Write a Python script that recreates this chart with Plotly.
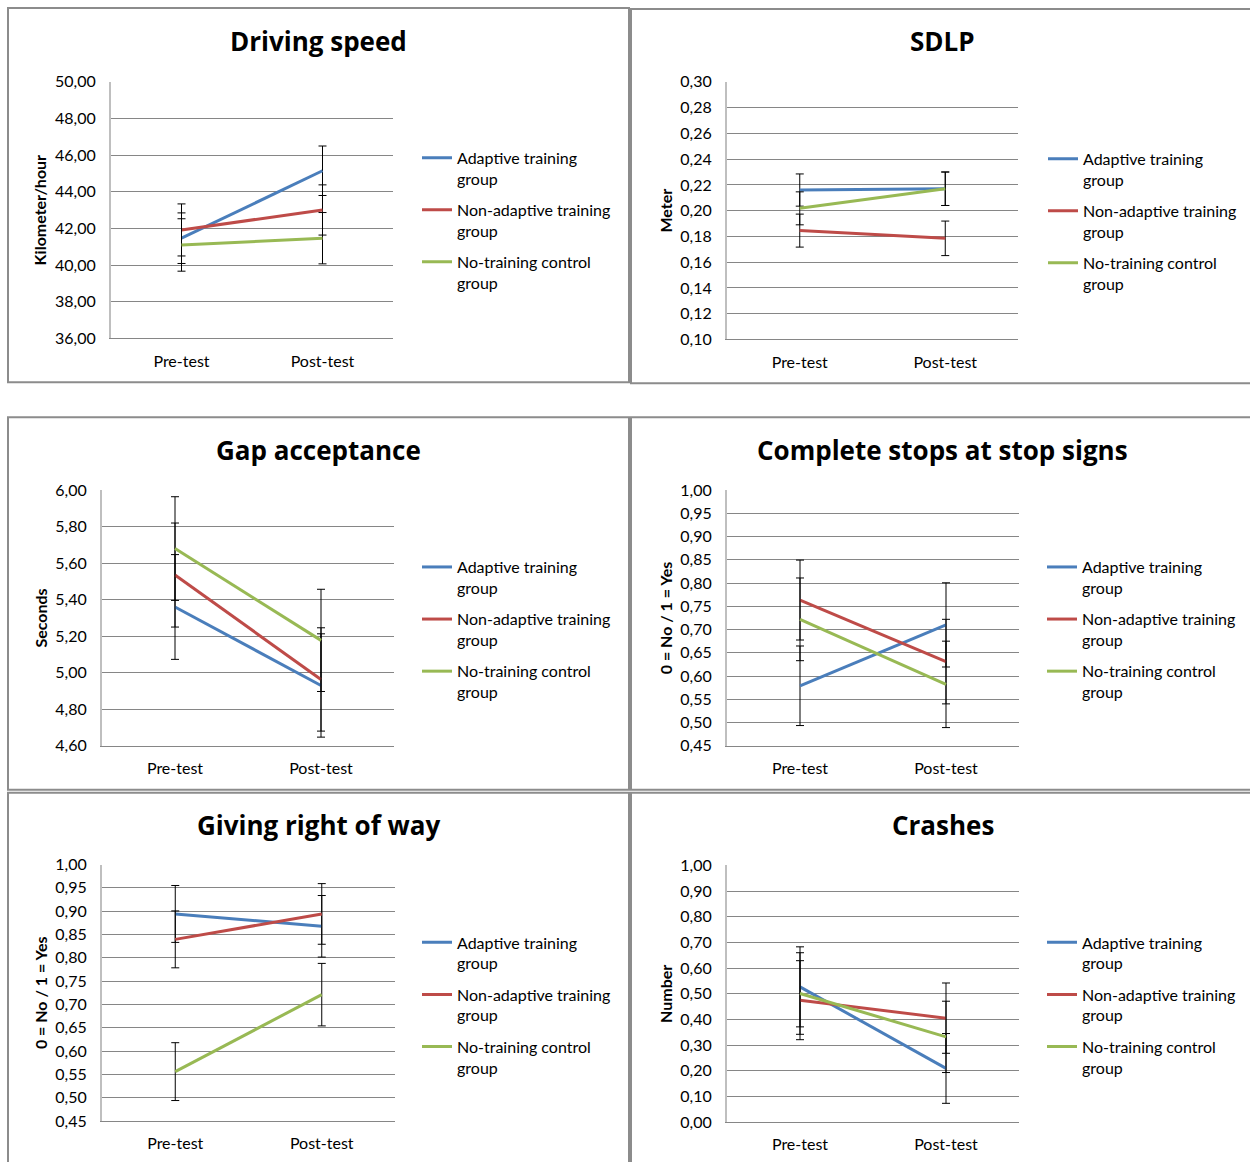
import plotly.graph_objects as go

categories = ["Pre-test", "Post-test"]
group_names = ["Adaptive training<br>group", "Non-adaptive training<br>group", "No-training control<br>group"]
group_colors = ["#4A7EBB", "#BE4B48", "#98B954"]

# Driving speed (km/h)
speed_adaptive = [41.47, 45.15]
speed_adaptive_err = [1.38, 1.35]
speed_nonadaptive = [41.92, 43.01]
speed_nonadaptive_err = [1.42, 1.37]
speed_control = [41.10, 41.47]
speed_control_err = [1.43, 1.40]

# SDLP (m)
sdlp_adaptive = [0.216, 0.217]
sdlp_adaptive_err = [0.0125, 0.0130]
sdlp_nonadaptive = [0.1845, 0.1785]
sdlp_nonadaptive_err = [0.0128, 0.0134]
sdlp_control = [0.2018, 0.217]
sdlp_control_err = [0.0128, 0.0130]

# Gap acceptance (s)
gap_adaptive = [5.36, 4.93]
gap_adaptive_err = [0.287, 0.283]
gap_nonadaptive = [5.535, 4.963]
gap_nonadaptive_err = [0.285, 0.283]
gap_control = [5.68, 5.177]
gap_control_err = [0.284, 0.280]

# Complete stops at stop signs
stops_adaptive = [0.579, 0.710]
stops_adaptive_err = [0.0856, 0.0906]
stops_nonadaptive = [0.7635, 0.631]
stops_nonadaptive_err = [0.086, 0.091]
stops_control = [0.722, 0.582]
stops_control_err = [0.089, 0.093]

# Giving right of way
row_adaptive = [0.894, 0.8675]
row_adaptive_err = [0.061, 0.066]
row_nonadaptive = [0.8395, 0.894]
row_nonadaptive_err = [0.061, 0.065]
row_control = [0.556, 0.721]
row_control_err = [0.062, 0.067]

# Crashes
crash_adaptive = [0.527, 0.209]
crash_adaptive_err = [0.156, 0.136]
crash_nonadaptive = [0.475, 0.405]
crash_nonadaptive_err = [0.154, 0.137]
crash_control = [0.501, 0.332]
crash_control_err = [0.159, 0.139]

W, HF = 1250, 1171
YOFF, YSCALE = 8.0, 0.9855
FONT = "Lato"
TFONT = "Open Sans"


def py(v):
    # convert a vertical pixel position of the target picture to paper coordinates
    return 1 - ((v - YOFF) / YSCALE) / HF


panels = [
    dict(title="Driving speed", ytitle="Kilometer/hour", rng=[36, 50], dtick=2,
         series=[(speed_adaptive, speed_adaptive_err), (speed_nonadaptive, speed_nonadaptive_err), (speed_control, speed_control_err)],
         px=(111, 393), pyr=(80, 337), box=(8, 6, 629, 381), tx=318, ty=39, lx=417, ly=139),
    dict(title="SDLP", ytitle="Meter", rng=[0.10, 0.30], dtick=0.02,
         series=[(sdlp_adaptive, sdlp_adaptive_err), (sdlp_nonadaptive, sdlp_nonadaptive_err), (sdlp_control, sdlp_control_err)],
         px=(727, 1018), pyr=(80, 338), box=(631, 7, 1252, 382), tx=942, ty=39, lx=1043, ly=140),
    dict(title="Gap acceptance", ytitle="Seconds", rng=[4.60, 6.00], dtick=0.2,
         series=[(gap_adaptive, gap_adaptive_err), (gap_nonadaptive, gap_nonadaptive_err), (gap_control, gap_control_err)],
         px=(102, 394), pyr=(489, 745), box=(8, 416, 629, 789), tx=318, ty=449, lx=417, ly=549),
    dict(title="Complete stops at stop signs", ytitle="0 = No / 1 = Yes", rng=[0.45, 1.00], dtick=0.05,
         series=[(stops_adaptive, stops_adaptive_err), (stops_nonadaptive, stops_nonadaptive_err), (stops_control, stops_control_err)],
         px=(727, 1019), pyr=(489, 745), box=(631, 416, 1252, 789), tx=942, ty=449, lx=1042, ly=549),
    dict(title="Giving right of way", ytitle="0 = No / 1 = Yes", rng=[0.45, 1.00], dtick=0.05,
         series=[(row_adaptive, row_adaptive_err), (row_nonadaptive, row_nonadaptive_err), (row_control, row_control_err)],
         px=(102, 395), pyr=(864, 1121), box=(8, 792, 629, 1180), tx=318, ty=824, lx=417, ly=925),
    dict(title="Crashes", ytitle="Number", rng=[0.0, 1.0], dtick=0.1,
         series=[(crash_adaptive, crash_adaptive_err), (crash_nonadaptive, crash_nonadaptive_err), (crash_control, crash_control_err)],
         px=(727, 1019), pyr=(865, 1122), box=(631, 792, 1252, 1180), tx=943, ty=824, lx=1042, ly=925),
]

fig = go.Figure()
shapes = []
annotations = []
for i, p in enumerate(panels):
    n = "" if i == 0 else str(i + 1)
    lg = "legend" + n
    for j, (vals, errs) in enumerate(p["series"]):
        fig.add_trace(go.Scatter(
            x=categories, y=vals, mode="lines", name=group_names[j],
            line=dict(color=group_colors[j], width=3),
            error_y=dict(type="data", array=errs, visible=True, color="#000000", thickness=1, width=4),
            xaxis="x" + n, yaxis="y" + n, legend=lg, legendgroup=f"g{i}_{j}",
        ))
    x0, x1 = p["px"]
    y0, y1 = p["pyr"]
    fig.layout["xaxis" + n] = dict(
        domain=[x0 / W, x1 / W], anchor="y" + n, type="category", range=[-0.5, 1.5],
        showgrid=False, showline=True, linecolor="#868686", linewidth=1, ticks="",
        ticklabelstandoff=8, tickfont=dict(family=FONT, size=16, color="#000000"), fixedrange=True,
    )
    fig.layout["yaxis" + n] = dict(
        domain=[py(y1), py(y0)], anchor="x" + n, range=p["rng"], dtick=p["dtick"], tick0=0,
        tickformat=".2f", showgrid=True, gridcolor="#868686", gridwidth=1, zeroline=False,
        showline=True, linecolor="#BFBFBF", linewidth=2, ticks="", ticklabelstandoff=10,
        tickfont=dict(family=FONT, size=16, color="#000000"),
        title=dict(text="<b>" + p["ytitle"] + "</b>", font=dict(family=FONT, size=16, color="#000000"), standoff=4),
        fixedrange=True,
    )
    fig.layout[lg] = dict(
        x=p["lx"] / W, y=py(p["ly"]), xanchor="left", yanchor="top",
        font=dict(family=FONT, size=16, color="#000000"), bgcolor="rgba(0,0,0,0)",
        tracegroupgap=7.5, valign="top", itemclick=False, itemdoubleclick=False,
    )
    bx0, by0, bx1, by1 = p["box"]
    shapes.append(dict(type="rect", xref="paper", yref="paper", x0=bx0 / W, x1=bx1 / W,
                       y0=py(by1), y1=py(by0), line=dict(color="#8C8C8C", width=2)))
    annotations.append(dict(text="<b>" + p["title"] + "</b>", xref="paper", yref="paper",
                            x=p["tx"] / W, y=py(p["ty"]), xanchor="center", yanchor="middle",
                            showarrow=False, font=dict(family=TFONT, size=26, color="#000000")))

fig.update_layout(
    width=W, height=HF, margin=dict(l=0, r=0, t=0, b=0),
    paper_bgcolor="white", plot_bgcolor="white", separators=",.",
    shapes=shapes, annotations=annotations, showlegend=True,
    font=dict(family=FONT),
)

fig.write_html("out.html", config={"displayModeBar": False},
               post_script="document.body.style.margin='0';document.documentElement.style.overflow='hidden';")
